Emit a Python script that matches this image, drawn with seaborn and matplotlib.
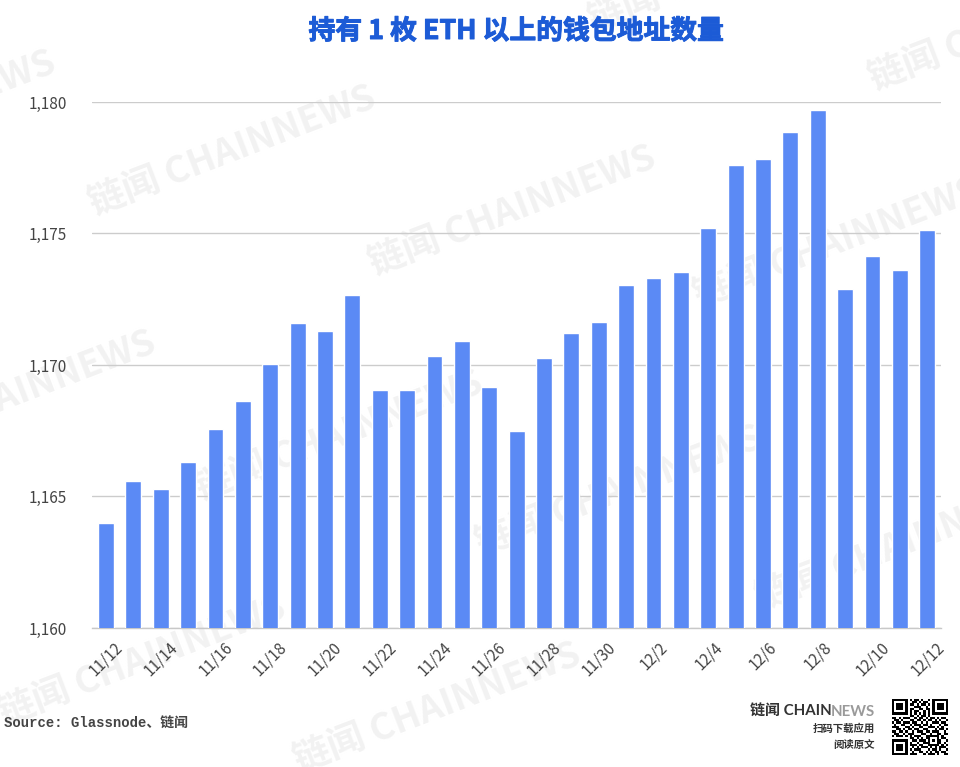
import matplotlib
matplotlib.use('Agg')
import matplotlib.patheffects as pe
import matplotlib.pyplot as plt
import numpy as np
import pandas as pd
import seaborn as sns

dates = ['11/12', '11/13', '11/14', '11/15', '11/16', '11/17', '11/18', '11/19',
         '11/20', '11/21', '11/22', '11/23', '11/24', '11/25', '11/26', '11/27',
         '11/28', '11/29', '11/30', '12/1', '12/2', '12/3', '12/4', '12/5',
         '12/6', '12/7', '12/8', '12/9', '12/10', '12/11', '12/12']
wallets = [1164.0, 1165.6, 1165.3, 1166.3, 1167.55, 1168.65, 1170.05, 1171.6,
           1171.3, 1172.65, 1169.05, 1169.05, 1170.35, 1170.9, 1169.15, 1167.5,
           1170.25, 1171.2, 1171.65, 1173.05, 1173.3, 1173.55, 1175.2, 1177.6,
           1177.85, 1178.85, 1179.7, 1172.9, 1174.15, 1173.6, 1175.15]
y_ticks = [1160, 1165, 1170, 1175, 1180]

# watermark anchors, pixels from the top left
watermarks = [(90, 205), (370, 265), (695, 297), (870, 80), (590, 22),
              (-230, 170), (-130, 450), (197, 490), (477, 545), (757, 600),
              (0, 715), (295, 762)]

qr_rows = [
    '1111111010110100101111111',
    '1000001001101011001000001',
    '1011101011010110101011101',
    '1011101000111001001011101',
    '1011101011001101101011101',
    '1000001010110010101000001',
    '1111111010101010101111111',
    '0000000011010110100000000',
    '1101011100101101011010110',
    '0110100011011010110101001',
    '1011011101100101001110110',
    '0100110010111011010001011',
    '1110001101001100111010100',
    '0011010110110011000101101',
    '1101101001011101101110010',
    '0110010111000110010011011',
    '1011101010111001111110100',
    '0000000011010101100010110',
    '1111111001101110101011001',
    '1000001010010011100011010',
    '1011101011101100111110101',
    '1011101001010111010101110',
    '1011101010111000101101001',
    '1000001001001101010110110',
    '1111111011100010111010011',
]

W, H = 960, 767
sns.set_style('white')
plt.rcParams['font.family'] = ['Noto Sans CJK SC', 'DejaVu Sans']

df = pd.DataFrame({'date': dates, 'wallets': wallets})

fig = plt.figure(figsize=(W / 100, H / 100), dpi=100)
ax = fig.add_axes([92.3 / W, (H - 628) / H, (941 - 92.3) / W, (628 - 102) / H])
ax.patch.set_alpha(0)

sns.barplot(data=df, x='date', y='wallets', color='#5b8af5', saturation=1,
            width=0.58, ax=ax, zorder=3)
ax.set_ylim(1160, 1180)
ax.set_xlim(-0.5, len(dates) - 0.5)
ax.set_yticks(y_ticks)
ax.set_yticklabels([f'{v:,}' for v in y_ticks], fontsize=11, fontweight='medium', color='#444444')
ax.set_xticks(range(0, len(dates), 2))
ax.set_xticklabels(dates[::2], fontsize=11, color='#444444', rotation=45, ha='center')
ax.tick_params(axis='x', length=0, pad=8)
ax.tick_params(axis='y', length=0, pad=18)
ax.set_xlabel('')
ax.set_ylabel('')
ax.grid(axis='y', color='#cccccc', linewidth=1, zorder=0)
ax.grid(axis='x', visible=False)
for side in ['top', 'right', 'left']:
    ax.spines[side].set_visible(False)
ax.spines['bottom'].set_color('#c8c8c8')
ax.spines['bottom'].set_linewidth(1)


def px(x, y):
    return x / W, 1 - y / H


for x, y in watermarks:
    fig.text(*px(x, y), '链闻 CHAINNEWS', fontsize=26.5, fontweight='bold',
             color='#f2f2f2', rotation=21, rotation_mode='anchor',
             ha='left', va='center', zorder=-1, clip_on=True)

title = fig.text(*px(516, 31), '持有 1 枚 ETH 以上的钱包地址数量', fontsize=19.3, fontweight='bold',
                 color='#1c5bd6', ha='center', va='center')
title.set_path_effects([pe.withStroke(linewidth=0.7, foreground='#1c5bd6')])
fig.text(*px(4, 724), 'Source: Glassnode、链闻', fontsize=10, fontweight='bold',
         color='#444444', ha='left', va='center',
         family=['Liberation Mono', 'Noto Sans CJK SC'])

fig.text(*px(832, 712), '链闻 CHAIN', fontsize=10.8, fontweight='bold', color='#333333',
         ha='right', va='center', family=['Lato', 'Noto Sans CJK SC'])
fig.text(*px(875, 712), 'NEWS', fontsize=10.8, fontweight='bold', color='#9a9a9a',
         ha='right', va='center', family=['Lato', 'Noto Sans CJK SC'])
fig.text(*px(875, 729), '扫码下载应用', fontsize=7.5, fontweight='bold', color='#333333',
         ha='right', va='center')
fig.text(*px(875, 745), '阅读原文', fontsize=7.5, fontweight='bold', color='#333333',
         ha='right', va='center')

qr = np.array([[int(c) for c in row] for row in qr_rows])
qr_ax = fig.add_axes([892 / W, (H - 755) / H, 56 / W, 56 / H])
qr_ax.imshow(qr, cmap='gray_r', interpolation='nearest', aspect='auto')
qr_ax.axis('off')

fig.savefig('out.png', dpi=100)
